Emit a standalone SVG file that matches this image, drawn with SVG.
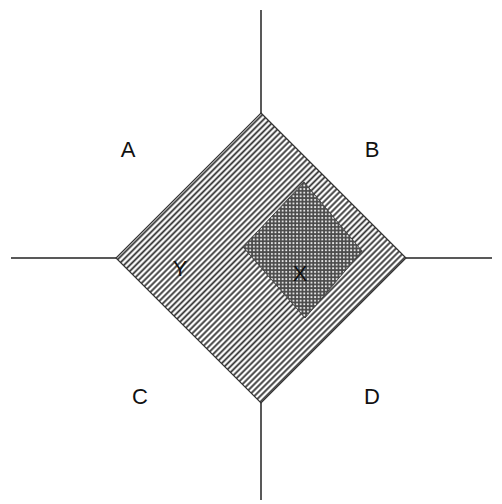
<svg xmlns="http://www.w3.org/2000/svg" width="502" height="504" viewBox="0 0 502 504">
<style>
.ln{stroke:#222;stroke-width:1.5;fill:none}
.lbl{font-family:"Liberation Sans",Arial,sans-serif;font-size:22px;fill:#111;text-anchor:middle}
</style>
<defs>
<pattern id="hatch" patternUnits="userSpaceOnUse" width="4.2" height="4.2" patternTransform="rotate(-45)">
<rect width="4.2" height="4.2" fill="#fff"/>
<line x1="0" y1="2.1" x2="4.2" y2="2.1" stroke="#333" stroke-width="1.8"/>
</pattern>
<pattern id="cross" patternUnits="userSpaceOnUse" width="3.6" height="3.6">
<rect width="3.6" height="3.6" fill="#4a4a4a"/>
<rect x="1" y="1" width="1.8" height="1.8" fill="#f2f2f2"/>
</pattern>
</defs>
<rect width="502" height="504" fill="#fff"/>
<g id="connectors">
<line class="ln" x1="261" y1="10" x2="261" y2="113"/>
<line class="ln" x1="261" y1="403" x2="261" y2="500"/>
<line class="ln" x1="11" y1="258" x2="116" y2="258"/>
<line class="ln" x1="406" y1="258" x2="492" y2="258"/>
</g>
<g id="Y">
<polygon points="261,113 406,258 261,403 116,258" fill="url(#hatch)" stroke="#333" stroke-width="1.2"/>
<text class="lbl" x="180" y="276">Y</text>
</g>
<g id="X">
<polygon points="304,182 362,251 305,318 243,247" fill="url(#cross)" stroke="#444" stroke-width="1"/>
<text class="lbl" x="300" y="281">X</text>
</g>
<g id="A"><text class="lbl" x="128" y="157">A</text></g>
<g id="B"><text class="lbl" x="372" y="157">B</text></g>
<g id="C"><text class="lbl" x="140" y="404">C</text></g>
<g id="D"><text class="lbl" x="372" y="404">D</text></g>
</svg>
